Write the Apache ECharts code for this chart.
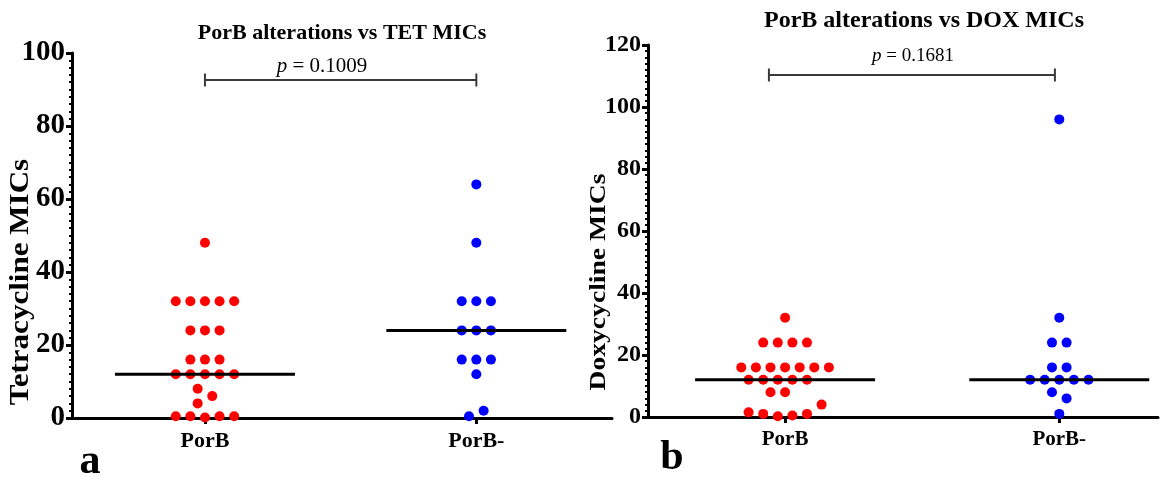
<!DOCTYPE html>
<html><head><meta charset="utf-8">
<script src="https://cdn.jsdelivr.net/npm/echarts@6/dist/echarts.min.js"></script>
<style>html,body{margin:0;padding:0;background:#fff}#c{width:1160px;height:477px}</style>
</head><body><div id="c"></div>
<script>
// ---------- data ----------
const categories = ['PorB', 'PorB-'];
const tetPorB = [48, 32, 32, 32, 32, 32, 24, 24, 24, 16, 16, 16, 12, 12, 12, 12, 12, 8, 6, 4, 0.5, 0.5, 0.125, 0.5, 0.5];
const tetPorBNeg = [64, 48, 32, 32, 32, 24, 24, 24, 16, 16, 16, 12, 0.5, 2];
const doxPorB = [32, 24, 24, 24, 24, 16, 16, 16, 16, 16, 16, 16, 12, 12, 12, 12, 12, 8, 8, 1.5, 1, 0.25, 0.5, 1, 4];
const doxPorBNeg = [96, 32, 24, 24, 16, 16, 12, 12, 12, 12, 12, 8, 6, 1];
const tetAxisMax = 100;
const doxAxisMax = 120;
const tickStep = 20;
const panelTitles = ['PorB alterations vs TET MICs', 'PorB alterations vs DOX MICs'];
const pValues = ['0.1009', '0.1681'];
const yNames = ['Tetracycline MICs', 'Doxycycline MICs'];
const panelLetters = ['a', 'b'];

// ---------- layout ----------
const FONT = '"Liberation Serif","Times New Roman",serif';
const RED = '#ff0000', BLUE = '#0000ff';
const panels = [
  { grid: {left: 72, top: 53, width: 540, height: 365}, xMin: 0.51, xMax: 2.5, yMax: tetAxisMax,
    groups: [tetPorB, tetPorBNeg], labelSize: 29, catSize: 22,
    bracket: [1, 2], bracketY: 80, title: {x: 342, y: 33, size: 22}, p: {x: 322, y: 66, size: 21},
    yName: {x: 21, y: 282, size: 27, stretch: 1.15}, letter: {x: 90, y: 462} },
  { grid: {left: 648, top: 45, width: 510, height: 372}, xMin: 0.5, xMax: 2.36, yMax: doxAxisMax,
    groups: [doxPorB, doxPorBNeg], labelSize: 24, catSize: 21,
    bracket: [0.941, 1.984], bracketY: 75, title: {x: 924, y: 21, size: 24}, p: {x: 913, y: 56, size: 19},
    yName: {x: 599, y: 282, size: 24, stretch: 1.15}, letter: {x: 672, y: 458} }
];

function median(arr) {
  const s = arr.slice().sort((a, b) => a - b);
  const n = s.length;
  return n % 2 ? s[(n - 1) / 2] : (s[n / 2 - 1] + s[n / 2]) / 2;
}

// simple beeswarm: rows of near-equal values, centred, shifted to avoid overlaps
function swarm(values, center, pxPerX, pxPerY) {
  const S = 14.6, MIN = 13, ROW = 10;
  const rows = [];
  values.forEach(v => {
    const py = -v * pxPerY;
    const last = rows[rows.length - 1];
    if (last && Math.abs(py - last.start) <= ROW) last.items.push({v, py});
    else rows.push({start: py, items: [{v, py}]});
  });
  const placed = [], out = [];
  const shifts = [0, -0.5, 0.5, -1, 1, -1.5, 1.5, -2, 2, -2.5, 2.5];
  rows.forEach(row => {
    const n = row.items.length;
    let chosen = 0;
    for (const sh of shifts) {
      const ok = row.items.every((it, i) => {
        const px = (i - (n - 1) / 2 + sh) * S;
        return placed.every(p => Math.hypot(p.px - px, p.py - it.py) >= MIN);
      });
      if (ok) { chosen = sh; break; }
    }
    row.items.forEach((it, i) => {
      const px = (i - (n - 1) / 2 + chosen) * S;
      placed.push({px, py: it.py});
      out.push([center + px / pxPerX, it.v]);
    });
  });
  return out;
}

const grid = [], xAxis = [], yAxis = [], series = [], graphic = [];
panels.forEach((P, k) => {
  grid.push(Object.assign({containLabel: false}, P.grid));
  const pxPerX = P.grid.width / (P.xMax - P.xMin);
  const pxPerY = P.grid.height / P.yMax;
  xAxis.push({
    type: 'value', gridIndex: k, min: P.xMin, max: P.xMax,
    splitLine: {show: false},
    axisLine: {show: true, onZero: false, lineStyle: {color: '#000', width: 3}},
    axisTick: {show: true, customValues: [1, 2], length: 6, lineStyle: {color: '#000', width: 3}},
    axisLabel: {show: true, customValues: [1, 2], formatter: v => categories[Math.round(v) - 1],
      color: '#000', fontFamily: FONT, fontWeight: 'bold', fontSize: P.catSize, margin: 12}
  });
  yAxis.push({
    type: 'value', gridIndex: k, min: 0, max: P.yMax, interval: tickStep,
    splitLine: {show: false},
    axisLine: {show: true, lineStyle: {color: '#000', width: 3}},
    axisTick: {show: true, length: 6, lineStyle: {color: '#000', width: 3}},
    minorTick: {show: true, splitNumber: 10, length: 3, lineStyle: {color: '#000', width: 2}},
    axisLabel: {color: '#000', fontFamily: FONT, fontWeight: 'bold', fontSize: P.labelSize, margin: 7}
  });
  P.groups.forEach((vals, g) => {
    series.push({
      type: 'scatter', xAxisIndex: k, yAxisIndex: k, symbol: 'circle', symbolSize: 10,
      itemStyle: {color: g === 0 ? RED : BLUE, opacity: 1},
      data: swarm(vals, g + 1, pxPerX, pxPerY), silent: true, z: 3
    });
    const m = median(vals), hw = 90 / pxPerX;
    series.push({
      type: 'line', xAxisIndex: k, yAxisIndex: k, symbol: 'none', silent: true, z: 4,
      lineStyle: {color: '#000', width: 3},
      data: [[g + 1 - hw, m], [g + 1 + hw, m]]
    });
  });
  const by = (P.grid.top + P.grid.height - P.bracketY) / pxPerY;
  series.push({
    type: 'custom', xAxisIndex: k, yAxisIndex: k, silent: true, z: 5,
    data: [[P.bracket[0], P.bracket[1], by]],
    renderItem: (params, api) => {
      const a = api.coord([api.value(0), api.value(2)]);
      const b = api.coord([api.value(1), api.value(2)]);
      const st = {stroke: '#3a3a3a', lineWidth: 2};
      return {type: 'group', children: [
        {type: 'line', shape: {x1: a[0], y1: a[1], x2: b[0], y2: b[1]}, style: st},
        {type: 'line', shape: {x1: a[0], y1: a[1] - 6.5, x2: a[0], y2: a[1] + 6.5}, style: st},
        {type: 'line', shape: {x1: b[0], y1: b[1] - 6.5, x2: b[0], y2: b[1] + 6.5}, style: st}
      ]};
    }
  });
  graphic.push({type: 'text', x: P.title.x, y: P.title.y, silent: true,
    style: {text: panelTitles[k], fill: '#000', fontFamily: FONT, fontWeight: 'bold', fontSize: P.title.size,
      align: 'center', verticalAlign: 'middle'}});
  graphic.push({type: 'text', x: P.p.x, y: P.p.y, silent: true,
    style: {text: '{i|p} = ' + pValues[k], fill: '#000', fontFamily: FONT, fontSize: P.p.size,
      align: 'center', verticalAlign: 'middle',
      rich: {i: {fontStyle: 'italic', fontFamily: FONT, fontSize: P.p.size, fill: '#000'}}}});
  graphic.push({type: 'text', x: P.yName.x, y: P.yName.y, rotation: Math.PI / 2, scaleX: P.yName.stretch, silent: true,
    style: {text: yNames[k], fill: '#000', fontFamily: FONT, fontWeight: 'bold', fontSize: P.yName.size,
      align: 'center', verticalAlign: 'middle'}});
  graphic.push({type: 'text', x: P.letter.x, y: P.letter.y, silent: true,
    style: {text: panelLetters[k], fill: '#000', fontFamily: FONT, fontWeight: 'bold', fontSize: 42,
      align: 'center', verticalAlign: 'middle'}});
});

const chart = echarts.init(document.getElementById('c'), null, {renderer: 'canvas'});
chart.setOption({animation: false, backgroundColor: '#fff', grid, xAxis, yAxis, series, graphic});
</script></body></html>
